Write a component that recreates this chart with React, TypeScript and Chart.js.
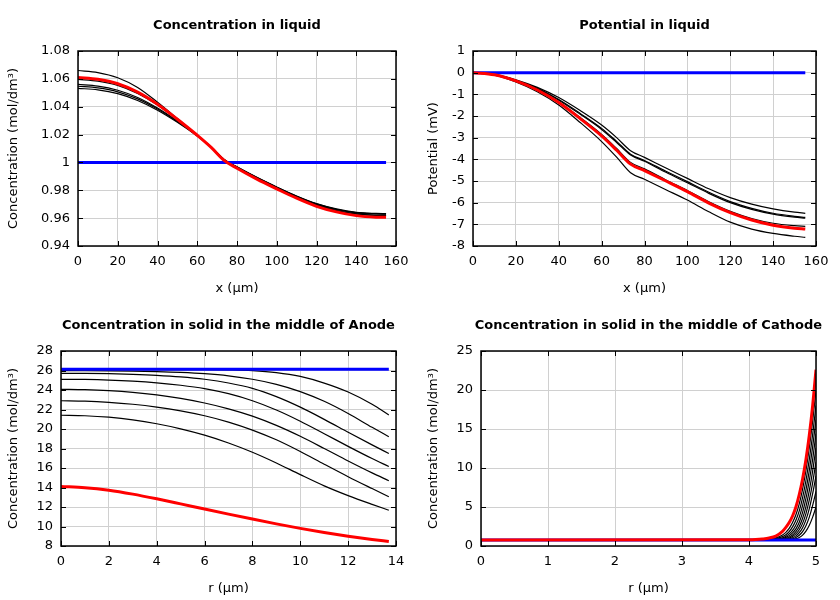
import React, { useEffect, useRef } from 'react';
import { Chart, registerables } from 'chart.js';

Chart.register(...registerables);

// ---------- Panel 1: Concentration in liquid ----------
const liquidX = [0, 10, 20, 30, 40, 50, 60, 67, 73.5, 80, 90, 100, 110, 120, 130, 140, 150, 155];
const concRed = [1.061, 1.0597, 1.0565, 1.0505, 1.0418, 1.031, 1.0195, 1.0108, 1.0015, 0.9958, 0.988, 0.981, 0.9743, 0.9685, 0.9645, 0.9618, 0.9607, 0.9606];
const concBlack1 = [1.066, 1.0645, 1.0608, 1.0538, 1.0432, 1.0315, 1.0195, 1.0107, 1.0015, 0.9962, 0.9885, 0.9815, 0.975, 0.9695, 0.9655, 0.963, 0.962, 0.9618];
const concBlack2 = [1.0597, 1.0584, 1.0553, 1.0495, 1.0412, 1.0307, 1.0195, 1.0108, 1.0016, 0.996, 0.9884, 0.9815, 0.9749, 0.9694, 0.9655, 0.963, 0.962, 0.962];
const concBlack3 = [1.056, 1.0548, 1.0518, 1.0466, 1.039, 1.0297, 1.0193, 1.011, 1.002, 0.9966, 0.989, 0.982, 0.9755, 0.97, 0.9662, 0.9638, 0.963, 0.9628];
const concBlack4 = [1.0547, 1.0535, 1.0507, 1.0456, 1.0383, 1.0293, 1.0191, 1.011, 1.0021, 0.9967, 0.9891, 0.9822, 0.9757, 0.9702, 0.9664, 0.964, 0.9632, 0.963];
const concBlack5 = [1.0532, 1.0521, 1.0494, 1.0445, 1.0375, 1.0288, 1.0189, 1.011, 1.0022, 0.9968, 0.9893, 0.9824, 0.9759, 0.9704, 0.9666, 0.9642, 0.9634, 0.9632];
const concBlueX = [0, 155];
const concBlue = [1.0, 1.0];

// ---------- Panel 2: Potential in liquid ----------
const potRed = [0, -0.1, -0.38, -0.8, -1.38, -2.12, -2.92, -3.58, -4.22, -4.52, -5.0, -5.49, -6.02, -6.46, -6.8, -7.04, -7.18, -7.22];
const potBlack1 = [0, -0.08, -0.33, -0.68, -1.15, -1.75, -2.42, -3.0, -3.6, -3.91, -4.4, -4.88, -5.36, -5.77, -6.07, -6.29, -6.44, -6.49];
const potBlack2 = [0, -0.09, -0.35, -0.72, -1.24, -1.88, -2.57, -3.17, -3.76, -4.05, -4.55, -5.03, -5.52, -5.95, -6.26, -6.49, -6.63, -6.68];
const potBlack3 = [0, -0.09, -0.36, -0.74, -1.27, -1.92, -2.62, -3.22, -3.8, -4.09, -4.6, -5.08, -5.57, -6.0, -6.31, -6.53, -6.67, -6.72];
const potBlack4 = [0, -0.1, -0.37, -0.78, -1.35, -2.07, -2.85, -3.5, -4.14, -4.44, -4.95, -5.44, -5.96, -6.4, -6.73, -6.95, -7.06, -7.09];
const potBlack5 = [0, -0.11, -0.43, -0.88, -1.49, -2.3, -3.18, -3.9, -4.62, -4.92, -5.4, -5.88, -6.42, -6.9, -7.22, -7.42, -7.55, -7.6];
const potBlueX = [0, 155];
const potBlue = [0, 0];

// ---------- Panel 3: Concentration in solid, Anode ----------
const anodeR = [0, 1, 2, 3, 4, 5, 6, 7, 8, 9, 10, 11, 12, 13, 13.7];
const anodeRed = [14.1, 13.98, 13.72, 13.32, 12.84, 12.32, 11.79, 11.27, 10.76, 10.27, 9.81, 9.39, 9.01, 8.67, 8.46];
const anodeBlack1 = [26.1, 26.1, 26.1, 26.1, 26.1, 26.1, 26.09, 26.06, 25.99, 25.79, 25.39, 24.71, 23.79, 22.54, 21.44];
const anodeBlack2 = [25.98, 25.975, 25.96, 25.93, 25.88, 25.8, 25.67, 25.45, 25.1, 24.58, 23.84, 22.84, 21.59, 20.17, 19.21];
const anodeBlack3 = [25.71, 25.7, 25.67, 25.61, 25.51, 25.35, 25.1, 24.72, 24.17, 23.32, 22.24, 20.99, 19.67, 18.37, 17.49];
const anodeBlack4 = [25.1, 25.08, 25.02, 24.91, 24.74, 24.49, 24.14, 23.62, 22.9, 21.95, 20.8, 19.52, 18.22, 16.97, 16.15];
const anodeBlack5 = [24.07, 24.03, 23.93, 23.76, 23.5, 23.14, 22.67, 22.07, 21.32, 20.37, 19.25, 18.0, 16.72, 15.5, 14.7];
const anodeBlack6 = [22.9, 22.86, 22.74, 22.54, 22.25, 21.86, 21.36, 20.71, 19.89, 18.89, 17.69, 16.39, 15.11, 13.89, 13.05];
const anodeBlack7 = [21.41, 21.36, 21.21, 20.94, 20.54, 20.02, 19.37, 18.57, 17.62, 16.52, 15.32, 14.17, 13.17, 12.27, 11.67];
const anodeBlueX = [0, 13.7];
const anodeBlue = [26.12, 26.12];

// ---------- Panel 4: Concentration in solid, Cathode ----------
const cathR = [0, 4.0, 4.1, 4.2, 4.3, 4.4, 4.5, 4.55, 4.6, 4.65, 4.7, 4.75, 4.8, 4.85, 4.9, 4.95, 5.0];
const cathRed = [0.77, 0.8, 0.83, 0.9, 1.02, 1.27, 1.88, 2.38, 3.0, 3.85, 5.0, 6.6, 8.6, 11.1, 14.2, 18.0, 22.6];
const cathBlack1 = [0.77, 0.78, 0.8, 0.83, 0.9, 1.05, 1.4, 1.75, 2.25, 3.0, 4.0, 5.4, 7.3, 9.7, 12.6, 16.0, 20.0];
const cathBlack2 = [0.77, 0.77, 0.78, 0.8, 0.85, 0.95, 1.2, 1.45, 1.85, 2.45, 3.3, 4.5, 6.2, 8.4, 11.1, 14.3, 18.0];
const cathBlack3 = [0.77, 0.77, 0.77, 0.78, 0.81, 0.88, 1.05, 1.25, 1.55, 2.0, 2.7, 3.7, 5.2, 7.2, 9.7, 12.7, 16.2];
const cathBlack4 = [0.77, 0.77, 0.77, 0.77, 0.79, 0.83, 0.95, 1.1, 1.33, 1.68, 2.2, 3.05, 4.3, 6.1, 8.4, 11.1, 14.4];
const cathBlack5 = [0.77, 0.77, 0.77, 0.77, 0.78, 0.8, 0.88, 0.98, 1.15, 1.42, 1.85, 2.5, 3.55, 5.05, 7.1, 9.6, 12.6];
const cathBlack6 = [0.77, 0.77, 0.77, 0.77, 0.77, 0.78, 0.83, 0.9, 1.02, 1.22, 1.55, 2.08, 2.9, 4.15, 5.9, 8.1, 10.8];
const cathBlack7 = [0.77, 0.77, 0.77, 0.77, 0.77, 0.77, 0.8, 0.84, 0.92, 1.06, 1.3, 1.7, 2.35, 3.35, 4.8, 6.7, 9.0];
const cathBlack8 = [0.77, 0.77, 0.77, 0.77, 0.77, 0.77, 0.77, 0.8, 0.84, 0.93, 1.1, 1.38, 1.85, 2.6, 3.7, 5.2, 7.0];
const cathBlack9 = [0.77, 0.77, 0.77, 0.77, 0.77, 0.77, 0.77, 0.77, 0.79, 0.84, 0.93, 1.1, 1.4, 1.9, 2.65, 3.7, 5.0];
const cathBlueX = [0, 5];
const cathBlue = [0.77, 0.77];

const FONT = '"DejaVu Sans", sans-serif';

type Series = { xs: number[]; ys: number[]; kind: 'red' | 'blue' | 'black' };
type PanelSpec = {
  title: string;
  xLabel: string;
  yLabel: string;
  xMin: number; xMax: number; xStep: number;
  yMin: number; yMax: number; yStep: number;
  left: number;
  series: Series[];
  pos: [number, number];
};

const panels: PanelSpec[] = [
  {
    title: 'Concentration in liquid', xLabel: 'x (µm)', yLabel: 'Concentration (mol/dm³)',
    xMin: 0, xMax: 160, xStep: 20, yMin: 0.94, yMax: 1.08, yStep: 0.02, left: 78, pos: [0, 0],
    series: [
      { xs: liquidX, ys: concRed, kind: 'red' },
      { xs: concBlueX, ys: concBlue, kind: 'blue' },
      { xs: liquidX, ys: concBlack1, kind: 'black' },
      { xs: liquidX, ys: concBlack2, kind: 'black' },
      { xs: liquidX, ys: concBlack3, kind: 'black' },
      { xs: liquidX, ys: concBlack4, kind: 'black' },
      { xs: liquidX, ys: concBlack5, kind: 'black' },
    ],
  },
  {
    title: 'Potential in liquid', xLabel: 'x (µm)', yLabel: 'Potential (mV)',
    xMin: 0, xMax: 160, xStep: 20, yMin: -8, yMax: 1, yStep: 1, left: 53, pos: [420, 0],
    series: [
      { xs: liquidX, ys: potRed, kind: 'red' },
      { xs: potBlueX, ys: potBlue, kind: 'blue' },
      { xs: liquidX, ys: potBlack1, kind: 'black' },
      { xs: liquidX, ys: potBlack2, kind: 'black' },
      { xs: liquidX, ys: potBlack3, kind: 'black' },
      { xs: liquidX, ys: potBlack4, kind: 'black' },
      { xs: liquidX, ys: potBlack5, kind: 'black' },
    ],
  },
  {
    title: 'Concentration in solid in the middle of Anode', xLabel: 'r (µm)', yLabel: 'Concentration (mol/dm³)',
    xMin: 0, xMax: 14, xStep: 2, yMin: 8, yMax: 28, yStep: 2, left: 61, pos: [0, 300],
    series: [
      { xs: anodeR, ys: anodeRed, kind: 'red' },
      { xs: anodeBlueX, ys: anodeBlue, kind: 'blue' },
      { xs: anodeR, ys: anodeBlack1, kind: 'black' },
      { xs: anodeR, ys: anodeBlack2, kind: 'black' },
      { xs: anodeR, ys: anodeBlack3, kind: 'black' },
      { xs: anodeR, ys: anodeBlack4, kind: 'black' },
      { xs: anodeR, ys: anodeBlack5, kind: 'black' },
      { xs: anodeR, ys: anodeBlack6, kind: 'black' },
      { xs: anodeR, ys: anodeBlack7, kind: 'black' },
    ],
  },
  {
    title: 'Concentration in solid in the middle of Cathode', xLabel: 'r (µm)', yLabel: 'Concentration (mol/dm³)',
    xMin: 0, xMax: 5, xStep: 1, yMin: 0, yMax: 25, yStep: 5, left: 61, pos: [420, 300],
    series: [
      { xs: cathR, ys: cathRed, kind: 'red' },
      { xs: cathBlueX, ys: cathBlue, kind: 'blue' },
      { xs: cathR, ys: cathBlack1, kind: 'black' },
      { xs: cathR, ys: cathBlack2, kind: 'black' },
      { xs: cathR, ys: cathBlack3, kind: 'black' },
      { xs: cathR, ys: cathBlack4, kind: 'black' },
      { xs: cathR, ys: cathBlack5, kind: 'black' },
      { xs: cathR, ys: cathBlack6, kind: 'black' },
      { xs: cathR, ys: cathBlack7, kind: 'black' },
      { xs: cathR, ys: cathBlack8, kind: 'black' },
      { xs: cathR, ys: cathBlack9, kind: 'black' },
    ],
  },
];

const styleFor = (kind: Series['kind']) => {
  if (kind === 'red') return { color: '#ff0000', width: 3 };
  if (kind === 'blue') return { color: '#0000ff', width: 3 };
  return { color: '#000000', width: 1.2 };
};

const fmt = (v: number) => String(Math.round(v * 1000) / 1000);

function Panel({ spec }: { spec: PanelSpec }) {
  const ref = useRef<HTMLCanvasElement | null>(null);
  useEffect(() => {
    if (!ref.current) return;
    const framePlugin = {
      id: 'frameTicks',
      afterDatasetsDraw(chart: any) {
        const { ctx, chartArea: a, scales } = chart;
        ctx.save();
        ctx.strokeStyle = '#000';
        ctx.lineWidth = 1;
        const L = 5;
        ctx.beginPath();
        scales.x.ticks.forEach((t: any) => {
          const px = Math.round(scales.x.getPixelForValue(t.value)) + 0.5;
          ctx.moveTo(px, a.bottom); ctx.lineTo(px, a.bottom - L);
          ctx.moveTo(px, a.top); ctx.lineTo(px, a.top + L);
        });
        scales.y.ticks.forEach((t: any) => {
          const py = Math.round(scales.y.getPixelForValue(t.value)) + 0.5;
          ctx.moveTo(a.left, py); ctx.lineTo(a.left + L, py);
          ctx.moveTo(a.right, py); ctx.lineTo(a.right - L, py);
        });
        ctx.stroke();
        ctx.lineWidth = 1.5;
        ctx.strokeRect(a.left, a.top, a.right - a.left, a.bottom - a.top);
        ctx.restore();
      },
    };
    const titlePlugin = {
      id: 'panelTitle',
      afterDraw(chart: any) {
        const { ctx, chartArea: a } = chart;
        ctx.save();
        ctx.font = 'bold 13px ' + FONT;
        ctx.fillStyle = '#000';
        ctx.textAlign = 'center';
        ctx.textBaseline = 'middle';
        ctx.fillText(spec.title, (a.left + a.right) / 2, 26);
        ctx.restore();
      },
    };
    const datasets = spec.series.map((s, i) => {
      const st = styleFor(s.kind);
      return {
        label: s.kind + i,
        data: s.xs.map((x, j) => ({ x, y: s.ys[j] })),
        borderColor: st.color,
        borderWidth: st.width,
        pointRadius: 0,
        fill: false,
        cubicInterpolationMode: 'monotone' as const,
      };
    });
    const chart = new Chart(ref.current, {
      type: 'line',
      data: { datasets },
      options: {
        responsive: false,
        animation: false,
        devicePixelRatio: 1,
        layout: { padding: { top: 51, right: 24, left: 0, bottom: 0 } },
        plugins: { legend: { display: false }, tooltip: { enabled: false }, title: { display: false } },
        scales: {
          x: {
            type: 'linear',
            min: spec.xMin, max: spec.xMax,
            afterFit: (s: any) => { s.height = 54; },
            grid: { color: '#d0d0d0', drawTicks: false, lineWidth: 1 },
            border: { display: false },
            ticks: {
              stepSize: spec.xStep, padding: 8, color: '#000', maxRotation: 0, autoSkip: false,
              font: { family: FONT, size: 13 },
              callback: (v: any) => fmt(Number(v)),
            },
            title: {
              display: true, text: spec.xLabel, color: '#000',
              font: { family: FONT, size: 13 }, padding: { top: 0, bottom: 3.2 },
            },
          },
          y: {
            type: 'linear',
            min: spec.yMin, max: spec.yMax,
            afterFit: (s: any) => { s.width = spec.left; },
            grid: { color: '#d0d0d0', drawTicks: false, lineWidth: 1 },
            border: { display: false },
            ticks: {
              stepSize: spec.yStep, padding: 8, color: '#000', autoSkip: false,
              font: { family: FONT, size: 13 },
              callback: (v: any) => fmt(Number(v)),
            },
            title: {
              display: true, text: spec.yLabel, color: '#000',
              font: { family: FONT, size: 13 }, padding: { top: 5.7, bottom: 0 },
            },
          },
        },
      },
      plugins: [framePlugin, titlePlugin],
    });
    return () => chart.destroy();
  }, [spec]);
  return (
    <canvas
      ref={ref}
      width={420}
      height={300}
      style={{ position: 'absolute', left: spec.pos[0], top: spec.pos[1], width: 420, height: 300, display: 'block' }}
    />
  );
}

export default function App() {
  return (
    <div style={{ position: 'absolute', left: 0, top: 0, width: 840, height: 600, background: '#fff', overflow: 'hidden' }}>
      {panels.map((p, i) => <Panel key={i} spec={p} />)}
    </div>
  );
}
